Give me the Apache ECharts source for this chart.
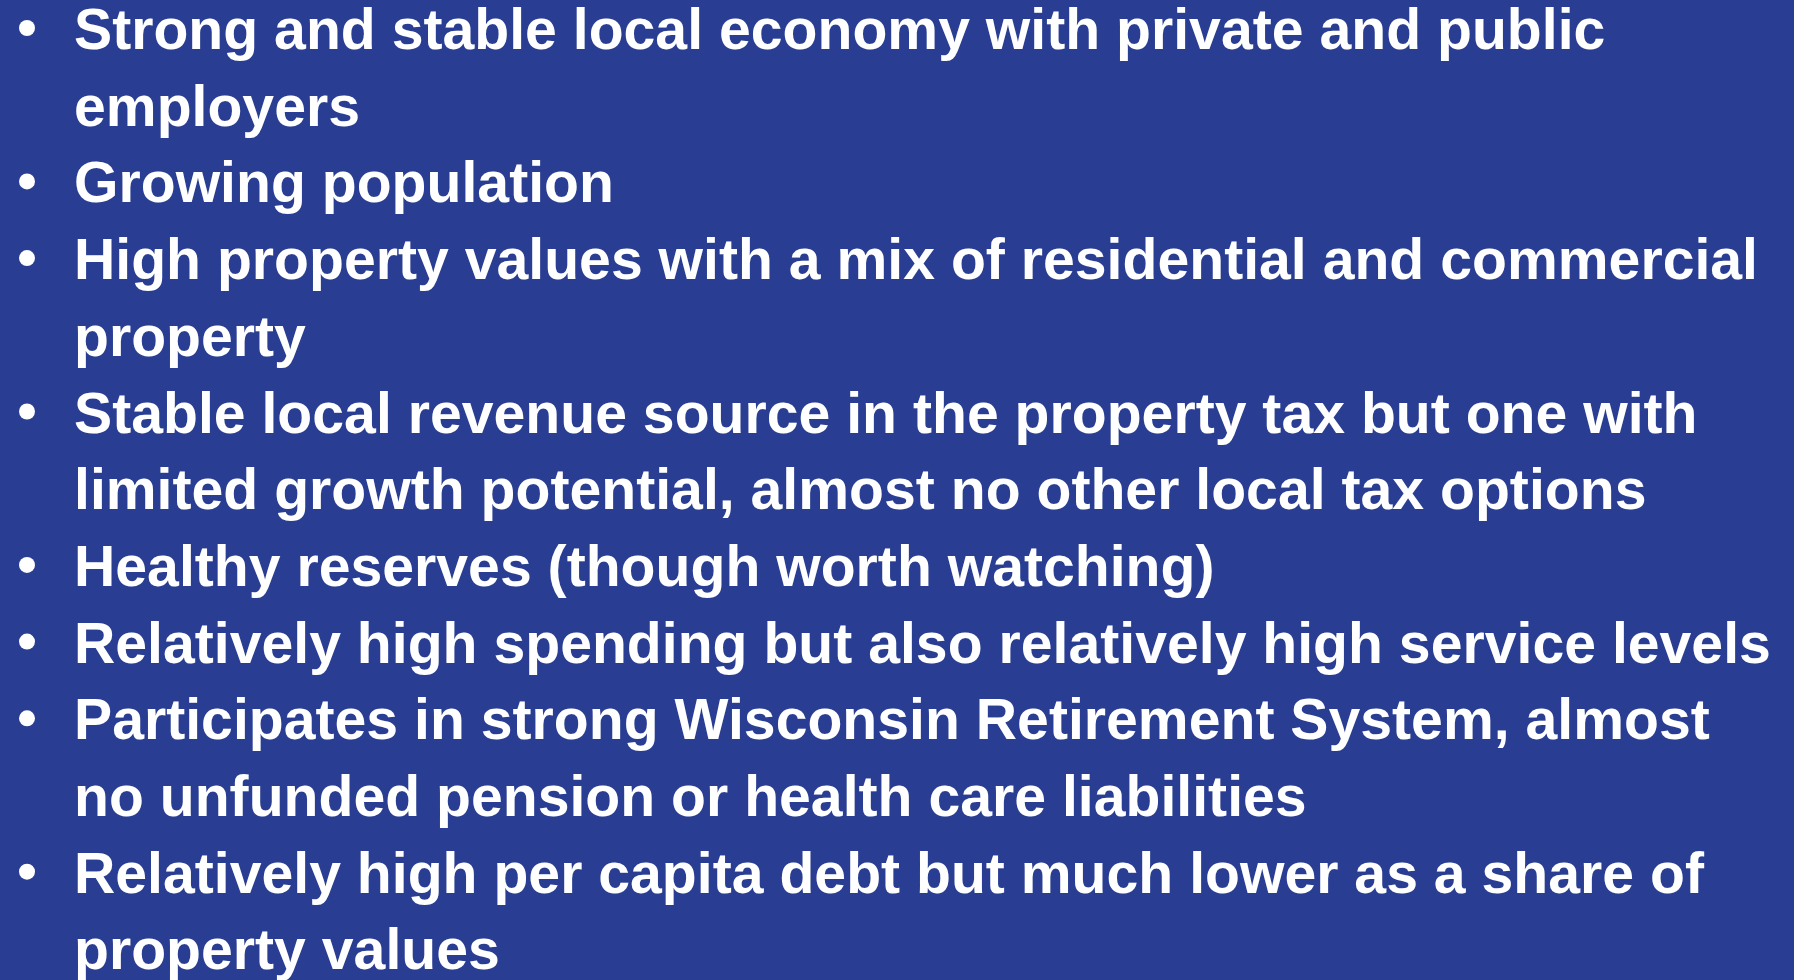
<!DOCTYPE html>
<html>
<head>
<meta charset="utf-8">
<title>Strengths</title>
<script src="https://cdn.jsdelivr.net/npm/echarts@6/dist/echarts.min.js"></script>
<style>
  html, body { margin: 0; padding: 0; background: #293e92; }
  #main { width: 1794px; height: 980px; }
</style>
</head>
<body>
<div id="main"></div>
<script>
// bullet points, each one a list of wrapped lines
var bullets = [
  ['Strong and stable local economy with private and public', 'employers'],
  ['Growing population'],
  ['High property values with a mix of residential and commercial', 'property'],
  ['Stable local revenue source in the property tax but one with', 'limited growth potential, almost no other local tax options'],
  ['Healthy reserves (though worth watching)'],
  ['Relatively high spending but also relatively high service levels'],
  ['Participates in strong Wisconsin Retirement System, almost', 'no unfunded pension or health care liabilities'],
  ['Relatively high per capita debt but much lower as a share of', 'property values']
];

// layout
var W = 1794, H = 980;
var rowSpacing = 76.7;
var firstRowY = 33;
var bulletX = 27;
var textX = 74;
var fontSize = 58;
var font = 'bold ' + fontSize + 'px "Liberation Sans", Arial, sans-serif';
var widestLine = 'High property values with a mix of residential and commercial';
var widestWidth = 1684;

// flatten into rows
var rows = [];
var bulletRows = [];
bullets.forEach(function (b) {
  b.forEach(function (line, j) {
    if (j === 0) bulletRows.push(rows.length);
    rows.push(line);
  });
});

var ctx = document.createElement('canvas').getContext('2d');
ctx.font = font;
var sx = widestWidth / ctx.measureText(widestLine).width;

var option = {
  backgroundColor: '#293e92',
  animation: false,
  grid: { left: 0, right: 0, top: 0, bottom: 0 },
  xAxis: { type: 'value', min: 0, max: W, show: false },
  yAxis: {
    type: 'value',
    inverse: true,
    min: -firstRowY / rowSpacing,
    max: (H - firstRowY) / rowSpacing,
    show: false
  },
  series: [
    {
      type: 'scatter',
      symbol: 'circle',
      symbolSize: 16,
      symbolOffset: [0, -5],
      itemStyle: { color: '#ffffff', opacity: 1 },
      silent: true,
      data: bulletRows.map(function (r) { return [bulletX, r]; })
    },
    {
      type: 'custom',
      silent: true,
      data: rows.map(function (t, i) { return [textX, i]; }),
      renderItem: function (params, api) {
        var p = api.coord([api.value(0), api.value(1)]);
        return {
          type: 'text',
          x: p[0],
          y: p[1],
          scaleX: sx,
          style: {
            text: rows[params.dataIndex],
            fill: '#ffffff',
            font: font,
            align: 'left',
            verticalAlign: 'middle'
          }
        };
      }
    }
  ]
};

var myChart = echarts.init(document.getElementById('main'));
myChart.setOption(option);
</script>
</body>
</html>
